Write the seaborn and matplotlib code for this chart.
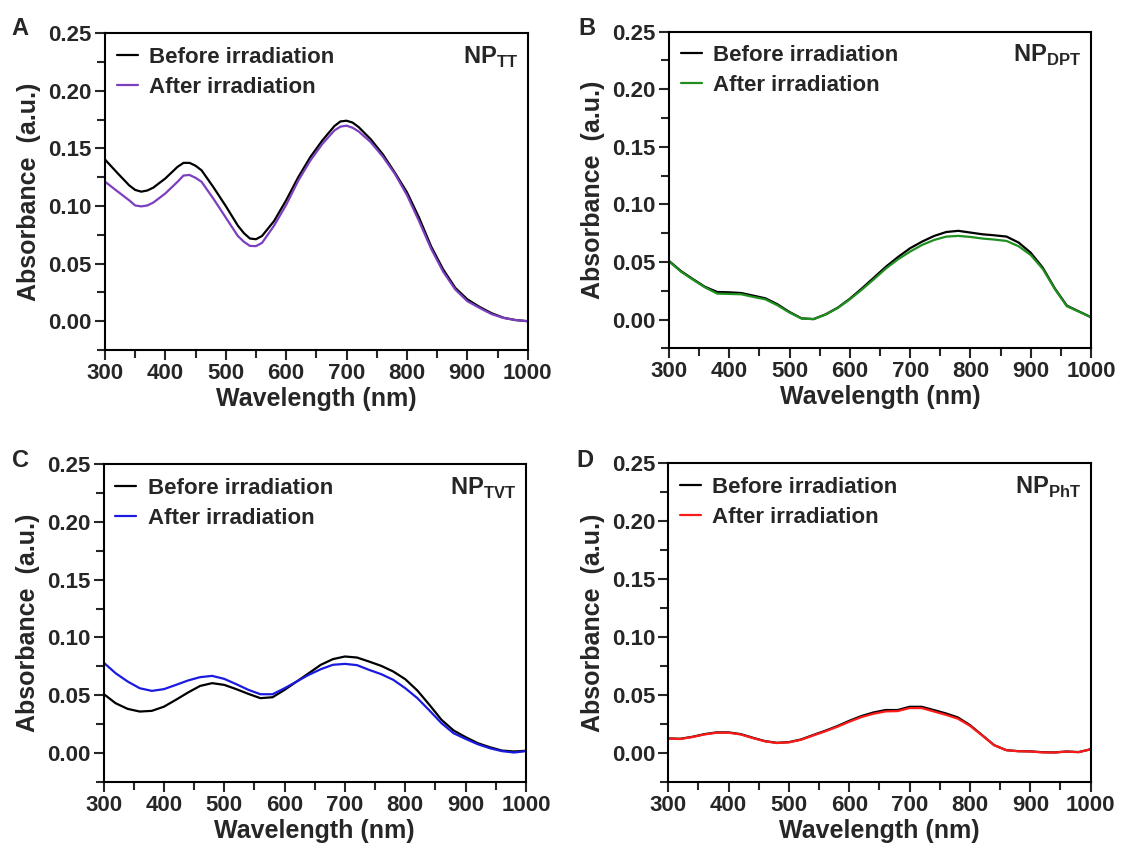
import matplotlib
matplotlib.use("Agg")
import matplotlib.pyplot as plt
import seaborn as sns
from matplotlib.ticker import MultipleLocator, FormatStrFormatter

# wavelength grid (nm) for panels B-D
wavelength = list(range(300, 1001, 20))

# panel A - NP_TT (a few extra points around the peaks)
tt_wavelength = [300, 320, 340, 350, 360, 370, 380, 400, 420, 430, 440, 450, 460, 480,
                 500, 520, 530, 540, 550, 560, 580, 600, 620, 640, 660, 680, 690, 700,
                 710, 720, 740, 760, 780, 800, 820, 840, 860, 880, 900, 920, 940, 960,
                 980, 1000]
tt_before = [0.1404, 0.129, 0.118, 0.114, 0.1125, 0.1135, 0.116, 0.124, 0.134, 0.1375,
             0.1375, 0.135, 0.131, 0.116, 0.100, 0.083, 0.0765, 0.0718, 0.0712, 0.074,
             0.087, 0.105, 0.125, 0.1425, 0.157, 0.1695, 0.1735, 0.1741, 0.1725, 0.1686,
             0.158, 0.145, 0.129, 0.112, 0.090, 0.065, 0.045, 0.029, 0.019, 0.0125,
             0.007, 0.003, 0.001, 0.0]
tt_after = [0.1212, 0.113, 0.105, 0.1005, 0.0997, 0.1005, 0.103, 0.111, 0.121, 0.1265,
            0.127, 0.1245, 0.121, 0.106, 0.090, 0.074, 0.069, 0.0654, 0.0652, 0.068,
            0.083, 0.101, 0.122, 0.1395, 0.154, 0.1657, 0.169, 0.1698, 0.168, 0.1648,
            0.1555, 0.143, 0.128, 0.1096, 0.087, 0.063, 0.043, 0.0276, 0.0174, 0.0116,
            0.0062, 0.0028, 0.001, 0.0]

# panel B - NP_DPT
dpt_before = [0.0509, 0.042, 0.035, 0.0283, 0.0239, 0.0236, 0.023, 0.0207, 0.0184, 0.0132,
              0.0065, 0.001, 0.0004, 0.0045, 0.0103, 0.018, 0.027, 0.0364, 0.0459, 0.0543,
              0.0619, 0.0677, 0.0726, 0.076, 0.077, 0.0755, 0.074, 0.0731, 0.072, 0.0668,
              0.058, 0.045, 0.027, 0.012, 0.007, 0.002]
dpt_after = [0.0505, 0.0415, 0.0345, 0.0278, 0.0225, 0.0222, 0.0219, 0.0196, 0.0175, 0.0123,
             0.006, 0.0008, 0.0003, 0.0043, 0.0100, 0.0175, 0.026, 0.035, 0.0444, 0.0523,
             0.059, 0.0648, 0.0691, 0.072, 0.0726, 0.0717, 0.0703, 0.0694, 0.0682, 0.0636,
             0.056, 0.0439, 0.0265, 0.0115, 0.0068, 0.002]

# panel C - NP_TVT
tvt_before = [0.0511, 0.043, 0.0381, 0.0358, 0.0364, 0.040, 0.046, 0.0523, 0.058, 0.0604,
              0.0589, 0.0552, 0.0511, 0.0474, 0.0482, 0.0546, 0.0618, 0.069, 0.0763, 0.0812,
              0.0835, 0.0826, 0.0791, 0.0754, 0.0705, 0.0638, 0.054, 0.0416, 0.0286, 0.0194,
              0.0136, 0.0084, 0.0049, 0.002, 0.0012, 0.0018]
tvt_after = [0.0783, 0.069, 0.0618, 0.056, 0.0537, 0.0552, 0.0589, 0.0627, 0.0656, 0.0667,
             0.0641, 0.0595, 0.0546, 0.0508, 0.0508, 0.056, 0.0618, 0.0676, 0.0725, 0.0763,
             0.0771, 0.076, 0.0719, 0.0682, 0.0633, 0.056, 0.0474, 0.0367, 0.0257, 0.017,
             0.0121, 0.0075, 0.004, 0.0015, 0.0003, 0.0015]

# panel D - NP_PhT
pht_before = [0.0124, 0.0121, 0.0138, 0.0161, 0.0176, 0.0176, 0.0161, 0.013, 0.0101, 0.0086,
              0.0092, 0.0115, 0.0153, 0.019, 0.023, 0.0276, 0.0317, 0.0348, 0.0369, 0.0369,
              0.0397, 0.0397, 0.0369, 0.034, 0.0305, 0.0239, 0.0153, 0.0066, 0.0023, 0.0014,
              0.0012, 0.0005, 0.0003, 0.0011, 0.0006, 0.003]
pht_after = [0.0122, 0.0119, 0.0136, 0.0158, 0.0173, 0.0173, 0.0158, 0.0127, 0.0099, 0.0084,
             0.009, 0.0112, 0.0149, 0.0185, 0.0224, 0.0268, 0.0308, 0.0337, 0.0357, 0.036,
             0.0386, 0.0386, 0.0357, 0.0328, 0.0294, 0.0233, 0.015, 0.0065, 0.0022, 0.0013,
             0.0011, 0.0003, 0.0002, 0.001, 0.0005, 0.003]

panel_letters = ["A", "B", "C", "D"]
sample_subs = ["TT", "DPT", "TVT", "PhT"]
after_colors = ["#7b3fbf", "#1f8f1f", "#1a1ae0", "#ff1a1a"]

sns.set_style("ticks")
plt.rcParams["font.family"] = ["Liberation Sans", "DejaVu Sans"]
plt.rcParams["font.weight"] = "bold"
plt.rcParams["mathtext.fontset"] = "custom"
plt.rcParams["mathtext.rm"] = "Liberation Sans:bold"
plt.rcParams["mathtext.bf"] = "Liberation Sans:bold"

fig = plt.figure(figsize=(11.23, 8.52), dpi=100)

# axes rectangles [left, bottom, width, height] in figure fraction
rects = [[0.0935, 0.5892, 0.3764, 0.3717],
         [0.5957, 0.5912, 0.3758, 0.3717],
         [0.0922, 0.0825, 0.3762, 0.3725],
         [0.5951, 0.0825, 0.3761, 0.3737]]
letter_pos = [(0.0104, 0.9589), (0.5147, 0.9589), (0.0104, 0.4522), (0.5130, 0.4522)]

series = [(tt_wavelength, tt_before, tt_after),
          (wavelength, dpt_before, dpt_after),
          (wavelength, tvt_before, tvt_after),
          (wavelength, pht_before, pht_after)]

for i, (wl, before, after) in enumerate(series):
    ax = fig.add_axes(rects[i])
    sns.lineplot(x=wl, y=before, ax=ax, color="black", lw=1.6,
                 label="Before irradiation")
    sns.lineplot(x=wl, y=after, ax=ax, color=after_colors[i], lw=1.6,
                 label="After irradiation")

    ax.set_xlim(300, 1000)
    ax.set_ylim(-0.025, 0.25)
    ax.xaxis.set_major_locator(MultipleLocator(100))
    ax.xaxis.set_minor_locator(MultipleLocator(50))
    ax.yaxis.set_major_locator(MultipleLocator(0.05))
    ax.yaxis.set_minor_locator(MultipleLocator(0.025))
    ax.yaxis.set_major_formatter(FormatStrFormatter("%.2f"))
    ax.tick_params(which="major", direction="out", length=7.5, width=1.5,
                   labelsize=16, pad=2)
    ax.tick_params(which="minor", direction="out", length=5.5, width=1.5)
    for s in ax.spines.values():
        s.set_linewidth(1.5)
        s.set_color("black")

    ax.set_xlabel("Wavelength (nm)", fontsize=18, fontweight="bold", labelpad=2)
    ax.set_ylabel("Absorbance  (a.u.)", fontsize=18, fontweight="bold", labelpad=5)

    ax.legend(loc="upper left", bbox_to_anchor=(0.028, 0.958), frameon=False,
              fontsize=16, handlelength=0.95, handletextpad=0.5,
              labelspacing=0.4, borderpad=0, borderaxespad=0)

    ax.text(0.977, 0.905, "NP$_{\\mathbf{" + sample_subs[i] + "}}$",
            transform=ax.transAxes, ha="right", va="baseline",
            fontsize=17, fontweight="bold")

    fig.text(letter_pos[i][0], letter_pos[i][1], panel_letters[i],
             fontsize=17, fontweight="bold", va="baseline", ha="left")

fig.savefig("out.png", dpi=100)
